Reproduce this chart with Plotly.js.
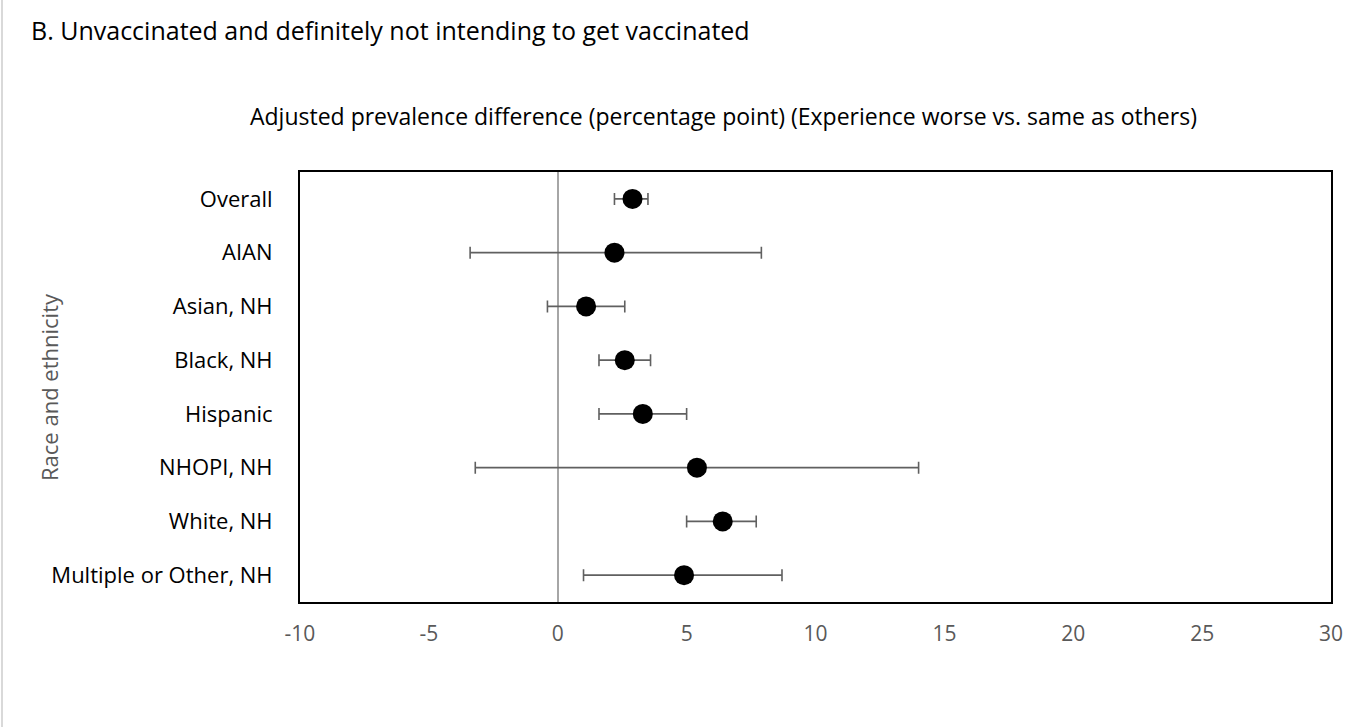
<!DOCTYPE html>
<html>
<head>
<meta charset="utf-8">
<script src="https://cdn.plot.ly/plotly-3.0.1.min.js"></script>
<style>
  html, body { margin: 0; padding: 0; background: #fff; }
  #wrap { position: relative; width: 1361px; height: 727px; }
  #chart { width: 1361px; height: 727px; }
  #edge { position: absolute; left: 1px; top: 0; width: 2px; height: 727px; background: #d9d9d9; }
</style>
</head>
<body>
<div id="wrap">
  <div id="chart"></div>
  <div id="edge"></div>
</div>
<script>
const categories = ["Overall", "AIAN", "Asian, NH", "Black, NH", "Hispanic", "NHOPI, NH", "White, NH", "Multiple or Other, NH"];
const estimate = [2.9, 2.2, 1.1, 2.6, 3.3, 5.4, 6.4, 4.9];
const lower = [2.2, -3.4, -0.4, 1.6, 1.6, -3.2, 5.0, 1.0];
const upper = [3.5, 7.9, 2.6, 3.6, 5.0, 14.0, 7.7, 8.7];
const xTicks = [-10, -5, 0, 5, 10, 15, 20, 25, 30];

const chartTitle = "B. Unvaccinated and definitely not intending to get vaccinated";
const xTitle = "Adjusted prevalence difference (percentage point) (Experience worse vs. same as others)";
const yTitle = "Race and ethnicity";

const FONT = "'Open Sans', Lato, sans-serif";

const trace = {
  type: "scatter",
  mode: "markers",
  x: estimate,
  y: categories,
  marker: { size: 20, color: "#000000", line: { width: 0 } },
  error_x: {
    type: "data",
    symmetric: false,
    array: upper.map((u, i) => u - estimate[i]),
    arrayminus: lower.map((l, i) => estimate[i] - l),
    color: "#606060",
    thickness: 1.6,
    width: 6
  },
  hoverinfo: "x+y",
  showlegend: false
};

const layout = {
  width: 1361,
  height: 727,
  paper_bgcolor: "#ffffff",
  plot_bgcolor: "#ffffff",
  font: { family: FONT, color: "#000000" },
  margin: { l: 300, r: 30, t: 172, b: 125, pad: 0 },
  title: {
    text: chartTitle,
    font: { family: FONT, size: 25, color: "#000000" },
    x: 31 / 1361, xref: "container", xanchor: "left",
    y: 1 - 31 / 727, yref: "container", yanchor: "middle"
  },
  xaxis: {
    range: [-10, 30],
    tickmode: "array",
    tickvals: xTicks,
    ticktext: xTicks.map(String),
    showgrid: false,
    zeroline: true,
    zerolinecolor: "#a6a6a6",
    zerolinewidth: 2,
    showline: true,
    linecolor: "#000000",
    linewidth: 2,
    mirror: true,
    ticks: "outside",
    ticklen: 12,
    tickcolor: "rgba(0,0,0,0)",
    tickfont: { family: FONT, size: 21, color: "#595959" },
    fixedrange: true
  },
  yaxis: {
    type: "category",
    categoryorder: "array",
    categoryarray: categories,
    range: [categories.length - 0.5, -0.5],
    showgrid: false,
    zeroline: false,
    showline: true,
    linecolor: "#000000",
    linewidth: 2,
    mirror: true,
    ticks: "outside",
    ticklen: 21,
    tickcolor: "rgba(0,0,0,0)",
    tickfont: { family: FONT, size: 22, color: "#000000" },
    fixedrange: true
  },
  annotations: [
    {
      text: xTitle,
      xref: "paper", yref: "paper",
      x: (723 - 300) / 1031, y: (602 - 116) / 430,
      xanchor: "center", yanchor: "middle",
      showarrow: false,
      font: { family: FONT, size: 23, color: "#000000" }
    },
    {
      text: yTitle,
      xref: "paper", yref: "paper",
      x: (49 - 300) / 1031, y: 0.5,
      xanchor: "center", yanchor: "middle",
      textangle: -90,
      showarrow: false,
      font: { family: FONT, size: 22, color: "#595959" }
    }
  ]
};

Plotly.newPlot("chart", [trace], layout, { displayModeBar: false, staticPlot: true });
</script>
</body>
</html>
